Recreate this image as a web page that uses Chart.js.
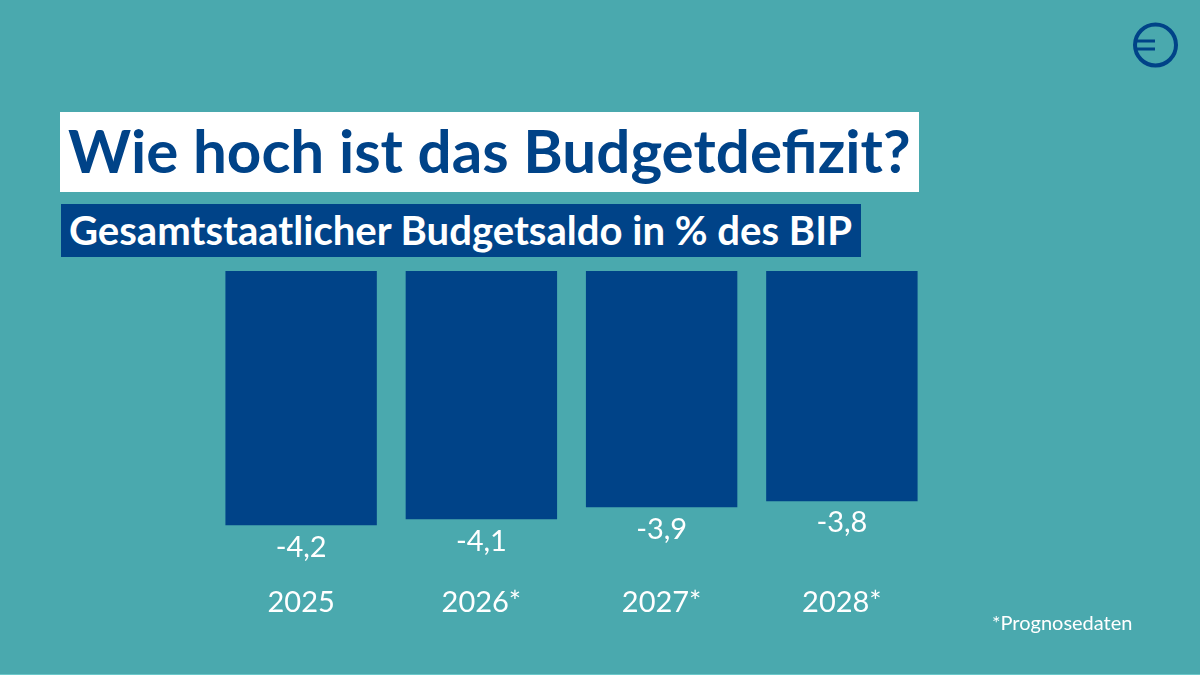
<!DOCTYPE html>
<html>
<head>
<meta charset="utf-8">
<style>
  html, body { margin: 0; padding: 0; background: #4aa9ae; }
  #wrap { position: relative; width: 1200px; height: 675px; overflow: hidden; background: #4aa9ae; font-family: Lato, sans-serif; }
  #wrap::after { content: ''; position: absolute; left: 0; top: 674px; width: 1200px; height: 1px; background: #6cc8ca; }
  #myChart { position: absolute; left: 0; top: 0; }
  .title { position: absolute; left: 60px; top: 112px; width: 859px; height: 80px; background: #fff; color: #004388; font-size: 60.15px; font-weight: 700; line-height: 76px; white-space: nowrap; text-indent: 8px; }
  .sub { position: absolute; left: 61px; top: 204px; width: 800px; height: 53px; background: #004388; color: #fff; font-size: 40.1px; font-weight: 700; line-height: 52px; white-space: nowrap; text-indent: 8px; }
  .note { position: absolute; left: 992px; top: 610px; color: #fff; font-size: 20px; line-height: 24px; }
  svg { position: absolute; left: 1130px; top: 20px; }
</style>
</head>
<body>
<div id="wrap">
  <canvas id="myChart" width="1200" height="675"></canvas>
  <div class="title">Wie hoch ist das Budgetdefizit?</div>
  <div class="sub">Gesamtstaatlicher Budgetsaldo in % des BIP</div>
  <div class="note">*Prognosedaten</div>
  <svg width="50" height="50" viewBox="0 0 50 50">
    <circle cx="25.5" cy="25" r="20.5" fill="none" stroke="#004388" stroke-width="4"/>
    <path d="M5 21 H25 M5 29 H25" stroke="#004388" stroke-width="3" fill="none"/>
  </svg>
</div>
<script src="https://cdn.jsdelivr.net/npm/chart.js@4"></script>
<script>
// Budgetsaldo in % des BIP
var jahre = ['2025', '2026*', '2027*', '2028*'];
var saldo = [-4.2, -4.1, -3.9, -3.8];

// Werte unter den Balken
var balkenWerte = {
  id: 'balkenWerte',
  afterDatasetsDraw: function (chart) {
    var ctx = chart.ctx;
    var meta = chart.getDatasetMeta(0);
    ctx.save();
    ctx.fillStyle = '#fff';
    ctx.font = '29px Lato';
    ctx.textAlign = 'center';
    ctx.textBaseline = 'middle';
    meta.data.forEach(function (bar, i) {
      ctx.fillText(saldo[i].toFixed(1).replace('.', ','), bar.x, bar.y + 22);
    });
    ctx.restore();
  }
};

var chart = new Chart(document.getElementById('myChart').getContext('2d'), {
  type: 'bar',
  data: {
    labels: jahre,
    datasets: [{
      data: saldo,
      backgroundColor: '#004388',
      borderWidth: 0,
      categoryPercentage: 0.84,
      barPercentage: 1
    }]
  },
  plugins: [balkenWerte],
  options: {
    responsive: false,
    animation: false,
    layout: { padding: { left: 211, right: 268, top: 271, bottom: 43.4 } },
    plugins: { legend: { display: false }, tooltip: { enabled: false } },
    scales: {
      x: {
        grid: { display: false, drawTicks: false },
        border: { display: false },
        ticks: { color: '#fff', padding: 11.5, maxRotation: 0, font: { family: 'Lato', size: 29 } }
      },
      y: { display: false, min: -5, max: 0 }
    }
  }
});
</script>
</body>
</html>
